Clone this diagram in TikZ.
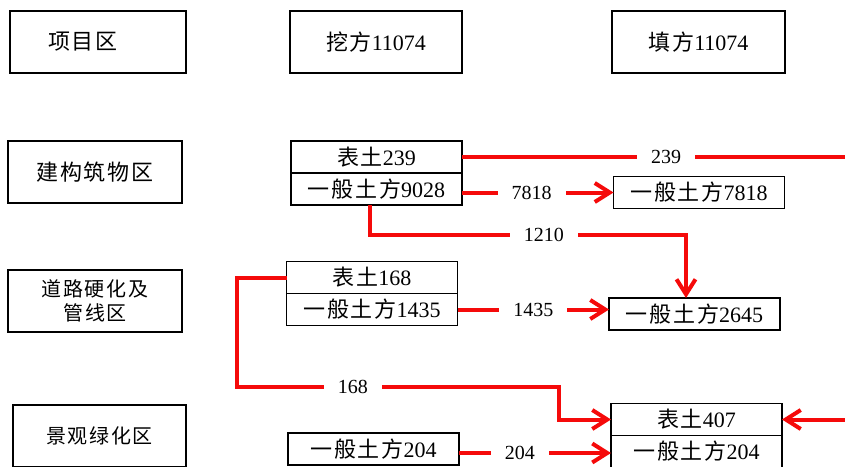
\documentclass[tikz,border=0pt]{standalone}
\usepackage{fontspec}
\setmainfont{Liberation Serif}
\newfontfamily\cjk[LetterSpace=8]{Noto Sans CJK SC}
\usetikzlibrary{positioning,arrows.meta}
\definecolor{flowred}{RGB}{245,10,10}
\begin{document}
\begin{tikzpicture}[x=1pt,y=1pt]
\tikzstyle{every node}+=[font=\fontsize{22}{26}\selectfont]
\tikzstyle{box}=[draw=black,line width=1.3pt,outer sep=0pt,inner sep=0pt,minimum width=171pt,minimum height=32pt]
\tikzstyle{area}=[box,minimum width=174pt,minimum height=62pt,align=center]
\tikzstyle{flow}=[draw=flowred,line width=4pt,-{Straight Barb[length=15pt,width=19pt]}]
\tikzstyle{lbl}=[fill=white,inner xsep=14pt,inner ysep=2pt,font=\fontsize{20}{24}\selectfont]
\useasboundingbox (0,0) rectangle (845,-466);
\clip (0,0) rectangle (845,-466);
\node[area,minimum width=176pt] (xm) at (98,-42) {{\cjk 项目区}\hspace*{30pt}};
\node[area,minimum width=172pt] (wf) at (376,-42) {{\cjk 挖方}11074};
\node[area,minimum width=173pt] (tf) at (698.5,-42) {{\cjk 填方}11074};
\node[area] (jg) at (95,-172) {{\cjk 建构筑物区}};
\node[area,font=\fontsize{20}{24}\cjk] (dl) at (95,-301) {道路硬化及\\管线区};
\node[area,font=\fontsize{20}{24}\cjk,minimum width=173pt] (jl) at (99.5,-436) {景观绿化区};
\node[box] (b239) at (376.5,-157) {{\cjk 表土}239};
\node[box,below=0pt of b239] (t9028) {{\cjk 一般土方}9028};
\node[box] (t7818) at (699,-192.5) {{\cjk 一般土方}7818};
\node[box] (b168) at (372,-277.5) {{\cjk 表土}168};
\node[box,below=0pt of b168] (t1435) {{\cjk 一般土方}1435};
\node[box] (t2645) at (694.5,-314) {{\cjk 一般土方}2645};
\node[box] (b407) at (696.5,-419.5) {{\cjk 表土}407};
\node[box,below=0pt of b407] (t204) {{\cjk 一般土方}204};
\node[box] (s204) at (373.5,-449) {{\cjk 一般土方}204};
\coordinate (r239) at (870,0);
\coordinate (k1210) at (686,-235);
\coordinate (k168a) at (237,-387);
\coordinate (k168b) at (559,-387);
\draw[flow] (b239.east) -- node[lbl]{239} (b239.east -| r239) |- (b407.east);
\draw[flow] (t9028.east |- t7818.west) -- node[lbl,pos=0.46]{7818} (t7818.west);
\draw[flow] ([xshift=-6.5pt]t9028.south) |- node[lbl,pos=0.775]{1210} (k1210) -- (k1210 |- t2645.north);
\draw[flow] (t1435.east) -- node[lbl]{1435} (t1435.east -| t2645.west);
\draw[flow] (b168.west) -| (k168a) -- node[lbl,pos=0.36]{168} (k168b) |- (b407.west);
\draw[flow] ([yshift=-4pt]s204.east) -- node[lbl,pos=0.4]{204} ([yshift=-4pt]s204.east -| t204.west);
\end{tikzpicture}
\end{document}
